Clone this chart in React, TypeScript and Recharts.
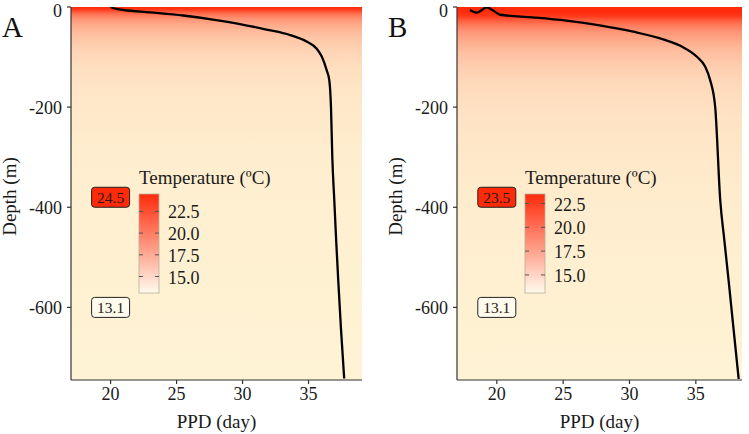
import React from 'react';
import { ComposedChart, Line, XAxis, YAxis, ReferenceArea, ReferenceDot } from 'recharts';

const FONT = "'Liberation Serif', 'Times New Roman', serif";

const xTicks = [20, 25, 30, 35];
const yTicks = [-600, -400, -200, 0];
const legendTicks = [15, 17.5, 20, 22.5];
const depthDomain: [number, number] = [-745, 0];

// Panel A: PPD profile
const ppdA = [20.0, 20.3, 21.0, 23.0, 25.5, 28.0, 29.8, 31.8, 33.6, 34.85, 35.6, 36.0, 36.37, 36.57, 36.7, 36.8, 36.95, 37.1, 37.25, 37.45, 37.7];
const depthA = [0, -3, -6, -10.7, -17, -26, -34, -45, -56, -69, -83, -99, -126, -146, -200, -300, -386, -470, -546, -640, -742];
// Panel A: temperature profile (background)
const tDepthA = [0, -4, -8, -12, -18, -26, -36, -50, -66, -90, -120, -160, -200, -300, -450, -600, -745];
const tempA = [24.5, 24.0, 22.5, 21.0, 19.6, 18.2, 17.2, 16.2, 15.5, 14.8, 14.3, 13.9, 13.7, 13.4, 13.25, 13.15, 13.1];

// Panel B: PPD profile
const ppdB = [17.98, 18.5, 19.25, 19.75, 20.25, 22.7, 25.25, 27.76, 30.28, 32.55, 34.07, 35.08, 35.7, 36.08, 36.46, 36.84, 37.15, 37.47, 37.85, 38.23];
const depthB = [-6, -11.3, -0.7, -7.5, -15.5, -20.7, -27.3, -36.7, -49.3, -64.7, -80.7, -99.3, -119, -146, -200, -386, -466, -546, -645, -743];
// Panel B: temperature profile (background)
const tDepthB = [0, -10, -18, -25, -35, -50, -70, -90, -120, -150, -190, -250, -350, -450, -600, -745];
const tempB = [23.5, 23.4, 22.7, 21.2, 19.5, 17.9, 16.7, 15.8, 15.0, 14.5, 14.1, 13.8, 13.5, 13.35, 13.2, 13.1];

const HIGH = [255, 42, 10];
const PLOT_LOW = [254, 243, 212];
const LEGEND_LOW = [255, 251, 238];

function mix(low: number[], f: number): string {
  const t = Math.max(0, Math.min(1, f));
  const c = low.map((l, i) => Math.round(l + (HIGH[i] - l) * t));
  return `rgb(${c[0]},${c[1]},${c[2]})`;
}

type Panel = {
  id: string;
  letter: string;
  ppd: number[];
  depth: number[];
  tDepth: number[];
  temp: number[];
  xDomain: [number, number];
  left: number;
  width: number;
  marginRight: number;
};

const panels: Panel[] = [
  { id: 'A', letter: 'A', ppd: ppdA, depth: depthA, tDepth: tDepthA, temp: tempA, xDomain: [17, 39.05], left: 0, width: 380, marginRight: 18 },
  { id: 'B', letter: 'B', ppd: ppdB, depth: depthB, tDepth: tDepthB, temp: tempB, xDomain: [17, 38.48], left: 386, width: 363, marginRight: 7 },
];

const tickStyle = { fill: '#1a1a1a', fontSize: 18, fontFamily: FONT };

function LabelBox(props: any) {
  const { cx, cy, value, fill } = props;
  if (cx == null || cy == null) return null;
  return (
    <g>
      <rect x={cx - 19} y={cy - 10} width={38} height={20} rx={3} ry={3} fill={fill} stroke="#222" strokeWidth={1} />
      <text x={cx} y={cy + 5.5} textAnchor="middle" fontSize={15.5} fontFamily={FONT} fill="#2a1a10">
        {value.toFixed(1)}
      </text>
    </g>
  );
}

function PanelChart({ p }: { p: Panel }) {
  const tMax = Math.max(...p.temp);
  const tMin = Math.min(...p.temp);
  const lineData = p.ppd.map((x, i) => ({ ppd: x, depth: p.depth[i] }));
  const span = depthDomain[1] - depthDomain[0];
  const stops = p.tDepth.map((d, i) => ({
    offset: (depthDomain[1] - d) / span,
    color: mix(PLOT_LOW, (p.temp[i] - tMin) / (tMax - tMin)),
  }));

  // legend geometry (layout)
  const barX = 139, barW = 20, barTop = 194, barBottom = 293;
  const vy = (v: number) => barBottom - ((v - tMin) / (tMax - tMin)) * (barBottom - barTop);

  return (
    <div style={{ position: 'absolute', left: p.left, top: 0, width: p.width, height: 434 }}>
      <ComposedChart width={p.width} height={434} data={lineData} margin={{ top: 7, right: p.marginRight, left: 11, bottom: 0 }}>
        <defs>
          <linearGradient id={`bg${p.id}`} x1="0" y1="0" x2="0" y2="1">
            {stops.map((s, i) => (
              <stop key={i} offset={s.offset} stopColor={s.color} />
            ))}
          </linearGradient>
        </defs>
        <XAxis
          type="number"
          dataKey="ppd"
          domain={p.xDomain}
          ticks={xTicks}
          allowDataOverflow
          height={54}
          tickSize={4}
          tickMargin={3}
          axisLine={{ stroke: '#333', strokeWidth: 1.2 }}
          tickLine={{ stroke: '#333', strokeWidth: 1.2 }}
          tick={tickStyle}
          label={{
            content: (lp: any) => {
              const vb = lp.viewBox || { x: 71, y: 380, width: 291, height: 54 };
              return (
                <text x={vb.x + vb.width / 2} y={vb.y + 48} textAnchor="middle" fontSize={19} fontFamily={FONT} fill="#1a1a1a">
                  PPD (day)
                </text>
              );
            },
          }}
        />
        <YAxis
          type="number"
          dataKey="depth"
          domain={depthDomain}
          ticks={yTicks}
          allowDataOverflow
          width={60}
          tickSize={4}
          tickMargin={5}
          axisLine={{ stroke: '#333', strokeWidth: 1.2 }}
          tickLine={{ stroke: '#333', strokeWidth: 1.2 }}
          tick={tickStyle}
          label={{
            content: () => (
              <text x={16} y={196.5} transform="rotate(-90, 16, 196.5)" textAnchor="middle" fontSize={19} fontFamily={FONT} fill="#1a1a1a">
                Depth (m)
              </text>
            ),
          }}
        />
        <ReferenceArea y1={depthDomain[0]} y2={depthDomain[1]} fill={`url(#bg${p.id})`} fillOpacity={1} stroke="none" ifOverflow="visible" />
        <Line dataKey="depth" type="monotone" stroke="#000" strokeWidth={2.3} dot={false} activeDot={false} isAnimationActive={false} />
        <ReferenceDot x={20} y={-380} r={10} ifOverflow="visible" shape={(sp: any) => <LabelBox {...sp} value={tMax} fill={mix(HIGH, 1)} />} />
        <ReferenceDot x={20} y={-600} r={10} ifOverflow="visible" shape={(sp: any) => <LabelBox {...sp} value={tMin} fill={mix(LEGEND_LOW, 0)} />} />
      </ComposedChart>
      <svg width={p.width} height={434} style={{ position: 'absolute', left: 0, top: 0, pointerEvents: 'none' }}>
        <defs>
          <linearGradient id={`lg${p.id}`} x1="0" y1="0" x2="0" y2="1">
            <stop offset={0} stopColor={mix(LEGEND_LOW, 1)} />
            <stop offset={1} stopColor={mix(LEGEND_LOW, 0)} />
          </linearGradient>
        </defs>
        <text x={2} y={37} fontSize={29} fontFamily={FONT} fill="#111">
          {p.letter}
        </text>
        <text x={barX} y={184} fontSize={19} fontFamily={FONT} fill="#1a1a1a">
          Temperature (ºC)
        </text>
        <rect x={barX} y={barTop} width={barW} height={barBottom - barTop} fill={`url(#lg${p.id})`} stroke="#b8ae98" strokeWidth={0.8} />
        {legendTicks.map((v) => (
          <g key={v}>
            <line x1={barX} x2={barX + 4} y1={vy(v)} y2={vy(v)} stroke="#555" strokeWidth={1} />
            <line x1={barX + barW - 4} x2={barX + barW} y1={vy(v)} y2={vy(v)} stroke="#555" strokeWidth={1} />
            <text x={barX + barW + 9} y={vy(v) + 7} fontSize={18} fontFamily={FONT} fill="#1a1a1a">
              {v.toFixed(1)}
            </text>
          </g>
        ))}
      </svg>
    </div>
  );
}

export default function App() {
  return (
    <div style={{ position: 'absolute', left: 0, top: 0, width: 749, height: 434, background: '#fff', overflow: 'hidden' }}>
      {panels.map((p) => (
        <PanelChart key={p.id} p={p} />
      ))}
    </div>
  );
}
